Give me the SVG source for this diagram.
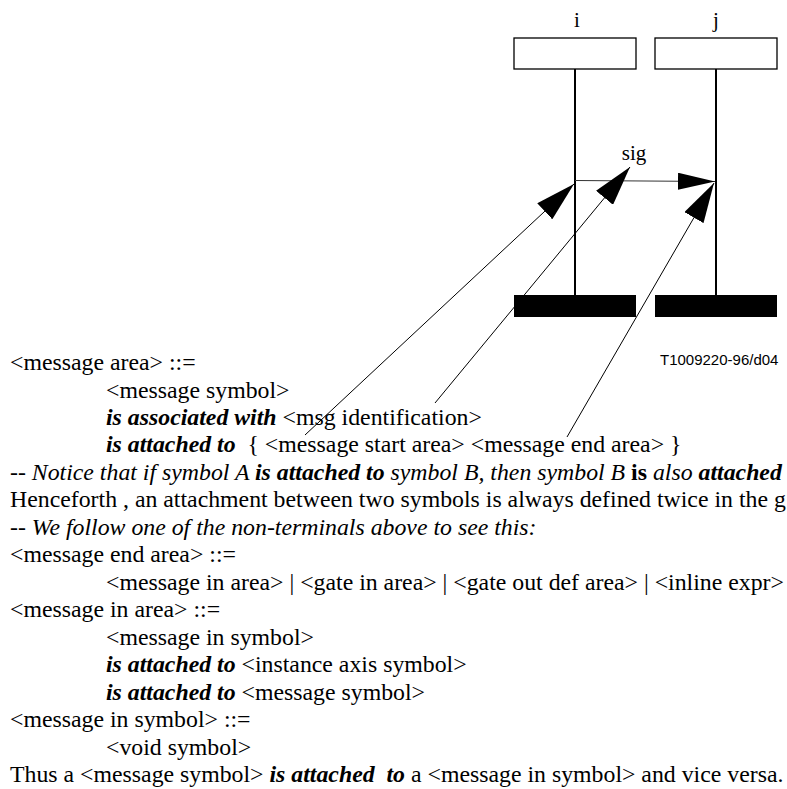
<svg xmlns="http://www.w3.org/2000/svg" width="787" height="789" viewBox="0 0 787 789">
  <style>
    .lbl { font-family: "Liberation Serif", "Times New Roman", serif; font-size: 21px; fill: #000; }
    .txt { font-family: "Liberation Serif", "Times New Roman", serif; font-size: 23.8px; fill: #000; white-space: pre; }
    .ref { font-family: "Liberation Sans", Arial, sans-serif; font-size: 15px; fill: #000; }
    .kw { font-weight: bold; font-style: italic; }
    .it { font-style: italic; }
    .bd { font-weight: bold; }
    .head { fill: none; stroke: #000; stroke-width: 1.3; }
    .axis { stroke: #000; stroke-width: 2; }
    .stop { fill: #000; }
    .msg { stroke: #333; stroke-width: 1.2; fill: none; }
    .ptr { stroke: #000; stroke-width: 1; fill: none; }
  </style>
  <defs>
    <marker id="bigHead" viewBox="0 -11 40 22" refX="40" refY="0" markerWidth="40" markerHeight="22" markerUnits="userSpaceOnUse" orient="auto">
      <path d="M0,-11 L40,0 L0,11 z" fill="#000"/>
    </marker>
    <marker id="msgHead" viewBox="0 -8.5 37 17" refX="37" refY="0" markerWidth="37" markerHeight="17" markerUnits="userSpaceOnUse" orient="auto">
      <path d="M0,-8.5 L37,0 L0,8.5 z" fill="#000"/>
    </marker>
  </defs>

  <!-- instance i -->
  <g id="instance-i">
    <text class="lbl" x="577" y="27" text-anchor="middle">i</text>
    <rect class="head" x="514" y="38" width="122" height="31"/>
    <line class="axis" x1="575" y1="69" x2="575" y2="296"/>
    <rect class="stop" x="514" y="295" width="122" height="22"/>
  </g>

  <!-- instance j -->
  <g id="instance-j">
    <text class="lbl" x="716" y="27" text-anchor="middle">j</text>
    <rect class="head" x="655" y="38" width="122" height="31"/>
    <line class="axis" x1="716" y1="69" x2="716" y2="296"/>
    <rect class="stop" x="655" y="295" width="122" height="22"/>
  </g>

  <!-- message sig from i to j -->
  <g id="message-sig">
    <text class="lbl" x="634" y="160" text-anchor="middle">sig</text>
  </g>

  <g id="connectors">
    <line class="msg" x1="575" y1="180.5" x2="715" y2="181.5" marker-end="url(#msgHead)"/>
    <line class="ptr" x1="305" y1="435" x2="574" y2="184" marker-end="url(#bigHead)"/>
    <line class="ptr" x1="435" y1="403" x2="630" y2="167" marker-end="url(#bigHead)"/>
    <line class="ptr" x1="567" y1="437" x2="714" y2="183" marker-end="url(#bigHead)"/>
  </g>

  <text class="ref" x="660" y="365">T1009220-96/d04</text>

  <!-- grammar text -->
  <g id="grammar">
    <text class="txt" x="10" y="370">&lt;message area&gt; ::=</text>
    <text class="txt" x="106" y="397.5">&lt;message symbol&gt;</text>
    <text class="txt" x="106" y="425"><tspan class="kw">is associated with</tspan> &lt;msg identification&gt;</text>
    <text class="txt" x="106" y="452"><tspan class="kw">is attached to</tspan>  { &lt;message start area&gt; &lt;message end area&gt; }</text>
    <text class="txt" x="10" y="479.5"><tspan class="it">-- Notice that if symbol A </tspan><tspan class="kw">is attached to</tspan><tspan class="it"> symbol B, then symbol B </tspan><tspan class="bd">is</tspan><tspan class="it"> also </tspan><tspan class="kw">attached</tspan></text>
    <text class="txt" x="10" y="507">Henceforth , an attachment between two symbols is always defined twice in the g</text>
    <text class="txt it" x="10" y="534.5">-- We follow one of the non-terminals above to see this:</text>
    <text class="txt" x="10" y="562">&lt;message end area&gt; ::=</text>
    <text class="txt" x="106" y="589.5">&lt;message in area&gt; | &lt;gate in area&gt; | &lt;gate out def area&gt; | &lt;inline expr&gt;</text>
    <text class="txt" x="10" y="617">&lt;message in area&gt; ::=</text>
    <text class="txt" x="106" y="644.5">&lt;message in symbol&gt;</text>
    <text class="txt" x="106" y="672"><tspan class="kw">is attached to</tspan> &lt;instance axis symbol&gt;</text>
    <text class="txt" x="106" y="699.5"><tspan class="kw">is attached to</tspan> &lt;message symbol&gt;</text>
    <text class="txt" x="10" y="727">&lt;message in symbol&gt; ::=</text>
    <text class="txt" x="106" y="754.5">&lt;void symbol&gt;</text>
    <text class="txt" x="10" y="782">Thus a &lt;message symbol&gt; <tspan class="kw">is attached  to</tspan> a &lt;message in symbol&gt; and vice versa.</text>
  </g>
</svg>
